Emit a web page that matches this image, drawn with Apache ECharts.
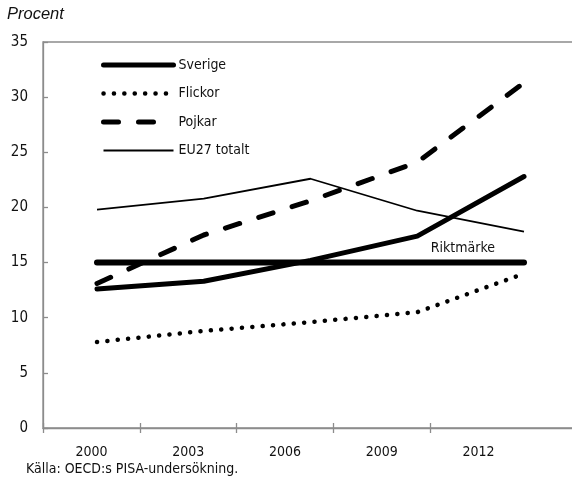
<!DOCTYPE html>
<html>
<head>
<meta charset="utf-8">
<script src="https://cdn.jsdelivr.net/npm/echarts@6/dist/echarts.min.js"></script>
<style>
html,body{margin:0;padding:0;background:#fff;}
#chart{width:572px;height:482px;}
</style>
</head>
<body>
<div id="chart"></div>
<script>
// ---- data ----
var years = [2000, 2003, 2006, 2009, 2012];
var yearLabels = ['2000', '2003', '2006', '2009', '2012'];
var sverige = [12.6, 13.3, 15.2, 17.4, 22.8];
var flickor = [7.8, 8.8, 9.6, 10.5, 14.0];
var pojkar = [13.1, 17.5, 20.6, 24.1, 31.3];
var eu27 = [19.8, 20.8, 22.6, 19.7, 17.8];
var riktmarke = 15;
var yTicks = [0, 5, 10, 15, 20, 25, 30, 35];

var FONT = "'Liberation Sans Narrow', 'DejaVu Sans Condensed', 'Arial Narrow', sans-serif";
var AXIS_COLOR = '#8c8c8c';

function pairs(vals) { return years.map(function (y, i) { return [y, vals[i]]; }); }

// layout of plot area (extends past the right edge, as in the reference)
var gridLeft = 43, gridTop = 42, gridBottom = 54;
var catWidth = 96.8;
var gridWidth = catWidth * (yearLabels.length + 1);
// value axis for data points: first year at x=97, last year at x=524
var pxFirst = 97, pxLast = 524;
var pxPerYear = (pxLast - pxFirst) / (years[years.length - 1] - years[0]);
var xMin = years[0] - (pxFirst - gridLeft) / pxPerYear;
var xMax = xMin + gridWidth / pxPerYear;

var cats = yearLabels.concat(['']);

var styles = {
  'Sverige': {color: '#000', width: 5, type: 'solid', cap: 'round', join: 'round'},
  'Flickor': {color: '#000', width: 4.5, type: [0.1, 10.3], cap: 'round', join: 'round'},
  'Pojkar': {color: '#000', width: 5, type: [15, 20], cap: 'round', join: 'round'},
  'EU27 totalt': {color: '#000', width: 1.8, type: 'solid', cap: 'butt', join: 'round'}
};
var names = ['Sverige', 'Flickor', 'Pojkar', 'EU27 totalt'];

var chart = echarts.init(document.getElementById('chart'), null, {renderer: 'canvas'});
chart.setOption({
  animation: false,
  title: {
    text: 'Procent', left: 7, top: 6, padding: 0,
    textStyle: {fontFamily: "'Liberation Sans', Arial, sans-serif", fontStyle: 'italic', fontWeight: 'normal', fontSize: 16.5, color: '#111'}
  },
  grid: {left: gridLeft, width: gridWidth, top: gridTop, bottom: gridBottom, show: true, borderColor: AXIS_COLOR, borderWidth: 1.3,
    containLabel: false, outerBoundsMode: 'none'},
  legend: {
    orient: 'vertical', left: 101, top: 58, padding: 0, itemWidth: 70, itemHeight: 14, itemGap: 14.5,
    data: names.map(function (n) {
      return {name: n, lineStyle: styles[n], itemStyle: {opacity: 0}};
    }),
    itemStyle: {opacity: 0},
    textStyle: {fontFamily: FONT, fontSize: 14, color: '#111'},
    selectedMode: false
  },
  xAxis: [
    {
      type: 'category', data: cats, boundaryGap: true, gridIndex: 0,
      axisLine: {show: true, lineStyle: {color: AXIS_COLOR, width: 1.3}},
      axisTick: {show: true, inside: false, length: 5, interval: function (i) { return i < yearLabels.length; }, lineStyle: {color: AXIS_COLOR, width: 1.3}},
      axisLabel: {margin: 17, fontFamily: FONT, fontSize: 14, color: '#111', interval: 0},
      splitLine: {show: false}
    },
    {
      type: 'value', min: xMin, max: xMax, show: false, gridIndex: 0, scale: true
    },
    {
      type: 'category', data: cats, boundaryGap: true, gridIndex: 0, position: 'bottom',
      axisLine: {show: false},
      axisTick: {show: true, inside: true, length: 5, interval: function (i) { return i < yearLabels.length; }, lineStyle: {color: AXIS_COLOR, width: 1.3}},
      axisLabel: {show: false}, splitLine: {show: false}
    }
  ],
  yAxis: {
    type: 'value', min: yTicks[0], max: yTicks[yTicks.length - 1], interval: 5,
    axisLine: {show: true, lineStyle: {color: AXIS_COLOR, width: 1.3}},
    axisTick: {show: true, inside: true, length: 5, lineStyle: {color: AXIS_COLOR, width: 1.3}},
    axisLabel: {margin: 15, fontFamily: FONT, fontSize: 15, color: '#111'},
    splitLine: {show: false}
  },
  series: [
    {name: 'Sverige', type: 'line', xAxisIndex: 1, data: pairs(sverige), symbol: 'none', lineStyle: styles['Sverige'], itemStyle: {color: '#000'}, z: 4},
    {name: 'Flickor', type: 'line', xAxisIndex: 1, data: pairs(flickor), symbol: 'none', lineStyle: styles['Flickor'], itemStyle: {color: '#000'}, z: 3},
    {name: 'Pojkar', type: 'line', xAxisIndex: 1, data: pairs(pojkar), symbol: 'none', lineStyle: styles['Pojkar'], itemStyle: {color: '#000'}, z: 3},
    {name: 'EU27 totalt', type: 'line', xAxisIndex: 1, data: pairs(eu27), symbol: 'none', lineStyle: styles['EU27 totalt'], itemStyle: {color: '#000'}, z: 3},
    {
      name: 'Riktmärke', type: 'line', xAxisIndex: 1, symbol: 'none',
      data: [[years[0], riktmarke], [years[years.length - 1], riktmarke]],
      endLabel: {show: true, formatter: 'Riktmärke', align: 'right', verticalAlign: 'middle', distance: 5, offset: [-34, -14],
        fontFamily: FONT, fontSize: 14, color: '#111'},
      lineStyle: {color: '#000', width: 6, cap: 'round'}, itemStyle: {color: '#000'}, z: 5
    }
  ],
  graphic: [
    {type: 'text', left: 26, top: 462, style: {text: 'Källa: OECD:s PISA-undersökning.', font: '14px ' + FONT, fill: '#111'}}
  ]
});
</script>
</body>
</html>
